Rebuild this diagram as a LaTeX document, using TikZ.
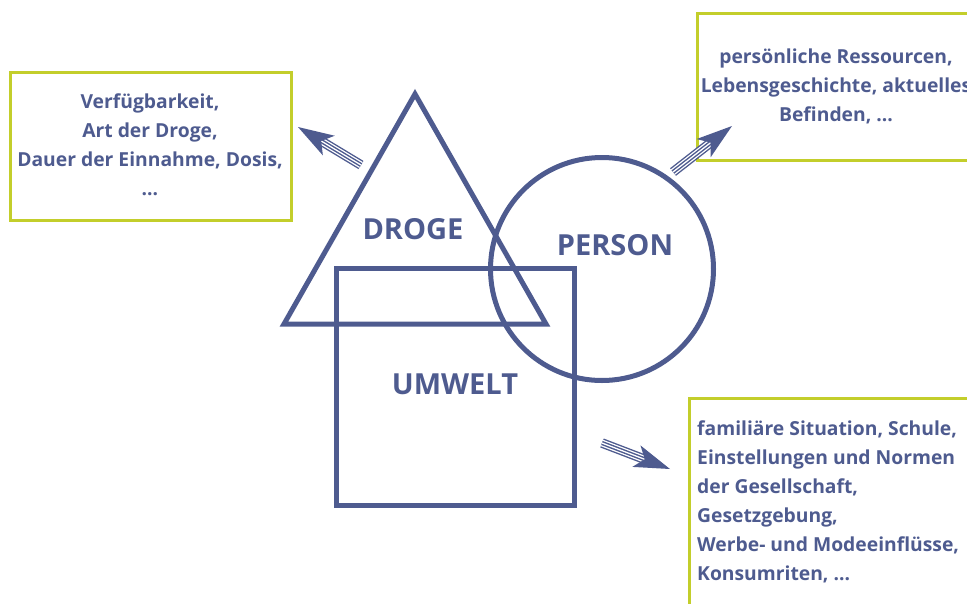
\documentclass[tikz,border=0pt]{standalone}
\usepackage{fontspec}
\setmainfont{Open Sans}
\usetikzlibrary{calc}
\definecolor{ink}{HTML}{4E5B8F}
\definecolor{lime}{HTML}{C3CE2B}

% striped arrow: shaft with white hatch lines and a filled stealth head
\newcommand\hatcharrow[2]{%
  \coordinate (hb) at ($(#2)!36pt!(#1)$);
  \coordinate (hn) at ($(#2)!27pt!(#1)$);
  \draw[ink, line width=9.6pt] (#1) -- (hn);
  \draw[white, line width=6.8pt] (#1) -- (hn);
  \draw[ink, line width=4.2pt] (#1) -- (hn);
  \draw[white, line width=1.3pt] (#1) -- (hn);
  \fill[ink] (#2) -- ($(hb)!11.5pt!90:(#2)$) -- (hn) -- ($(hb)!11.5pt!-90:(#2)$) -- cycle;
}

\tikzset{
  shape line/.style={draw=ink, line width=5pt, line join=miter},
  frame/.style={draw=lime, line width=3pt},
  boxtext/.style={text=ink, font=\fontsize{19.3}{29}\selectfont\bfseries, inner sep=0pt},
  biglabel/.style={text=ink, font=\fontsize{29}{30}\selectfont\bfseries, inner sep=0pt}
}

\begin{document}
\begin{tikzpicture}[x=1pt,y=-1pt]
\useasboundingbox (0,0) rectangle (967,603);
\clip (0,0) rectangle (967,603);

% three overlapping figures
\draw[shape line] (415,94) -- (546,324) -- (284,324) -- cycle;
\draw[shape line] (602,269) circle (111.5);
\draw[shape line] (336,268) rectangle (574,505.5);

\node[biglabel] (droge) at (413,229) {DROGE};
\node[biglabel] (person) at (615,245) {PERSON};
\node[biglabel] (umwelt) at (455,384) {UMWELT};

% description boxes
\draw[frame] (10,72) rectangle (291,220);
\draw[frame] (697,13) rectangle (990,160);
\draw[frame] (689,398) rectangle (990,640);

\node[boxtext, align=center] (drogetext) at (150,145)
  {Verfügbarkeit,\\Art der Droge,\\Dauer der Einnahme, Dosis,\\...};
\node[boxtext, align=center] (persontext) at (836,86)
  {persönliche Ressourcen,\\Lebensgeschichte, aktuelles\\Befinden, ...};
\node[boxtext, align=left, anchor=west] (umwelttext) at (697,502)
  {familiäre Situation, Schule,\\Einstellungen und Normen\\der Gesellschaft,\\Gesetzgebung,\\Werbe- und Modeeinflüsse,\\Konsumriten, ...};

% arrows from the figures to their boxes
\coordinate (a1s) at (361,165); \coordinate (a1e) at (298,127);
\coordinate (a2s) at (673,172); \coordinate (a2e) at (732,126);
\coordinate (a3s) at (602,443); \coordinate (a3e) at (670,469);
\hatcharrow{a1s}{a1e}
\hatcharrow{a2s}{a2e}
\hatcharrow{a3s}{a3e}
\end{tikzpicture}
\end{document}
